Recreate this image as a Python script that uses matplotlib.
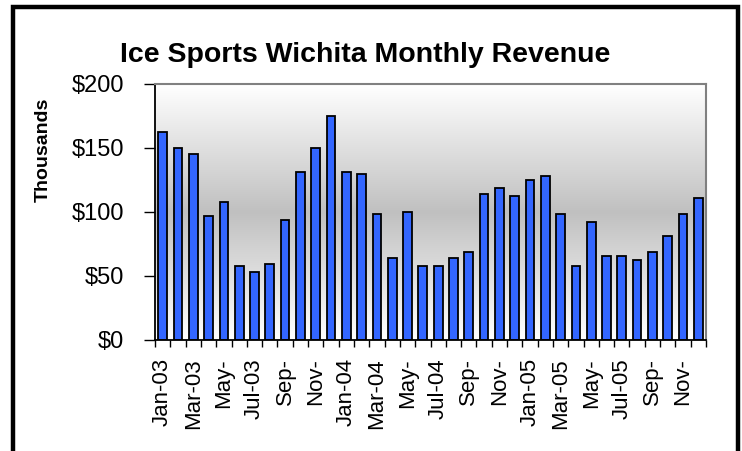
import matplotlib
matplotlib.use("Agg")
import matplotlib.pyplot as plt
import numpy as np
from matplotlib.colors import LinearSegmentedColormap
from matplotlib.patches import Rectangle
from matplotlib.ticker import FixedLocator, FuncFormatter

plt.rcParams['font.family'] = ['Liberation Sans', 'DejaVu Sans']

months = ["Jan-03", "Feb-03", "Mar-03", "Apr-03", "May-03", "Jun-03", "Jul-03", "Aug-03",
          "Sep-03", "Oct-03", "Nov-03", "Dec-03",
          "Jan-04", "Feb-04", "Mar-04", "Apr-04", "May-04", "Jun-04", "Jul-04", "Aug-04",
          "Sep-04", "Oct-04", "Nov-04", "Dec-04",
          "Jan-05", "Feb-05", "Mar-05", "Apr-05", "May-05", "Jun-05", "Jul-05", "Aug-05",
          "Sep-05", "Oct-05", "Nov-05", "Dec-05"]
revenue = [162.5, 150, 145.3, 96.8, 107.7, 57.6, 52.9, 59.2, 93.6, 131.2, 150, 175,
           131.2, 129.6, 98.3, 63.9, 99.9, 57.6, 57.6, 63.9, 68.6, 114, 118.7, 112.4,
           124.9, 128, 98.3, 57.6, 92, 65.5, 65.5, 62.3, 68.6, 81.1, 98.3, 110.8]
tick_labels = ["Jan-03", "Mar-03", "May-", "Jul-03", "Sep-", "Nov-",
               "Jan-04", "Mar-04", "May-", "Jul-04", "Sep-", "Nov-",
               "Jan-05", "Mar-05", "May-", "Jul-05", "Sep-", "Nov-"]
y_ticks = [0, 50, 100, 150, 200]

W, H = 742, 451
fig = plt.figure(figsize=(W / 100, H / 100), dpi=100)
fig.patch.set_facecolor('white')

left, right, top, bottom = 155, 706, 84, 340
ax = fig.add_axes([left / W, 1 - bottom / H, (right - left) / W, (bottom - top) / H])

n = len(revenue)
x = np.arange(n) + 0.5

# gradient background
cmap = LinearSegmentedColormap.from_list('g', [(0, '#ffffff'), (0.5, '#c0c0c0'), (1, '#ffffff')])
grad = np.linspace(0, 1, 256).reshape(-1, 1)
ax.imshow(grad, extent=[0, n, 0, 200], aspect='auto', cmap=cmap, origin='upper', zorder=0)

ax.bar(x, revenue, width=0.57, color='#3366ff', edgecolor='black', linewidth=1.3, zorder=2)

ax.set_xlim(0, n)
ax.set_ylim(0, 200)

# x ticks: marks at boundaries, labels at every other category center
ax.xaxis.set_major_locator(FixedLocator(np.arange(0, n + 1)))
ax.xaxis.set_major_formatter(FuncFormatter(lambda v, p: ''))
ax.xaxis.set_minor_locator(FixedLocator(x[::2]))
ax.set_xticklabels(tick_labels, minor=True, rotation=90, fontsize=16, va='top', ha='center')
ax.tick_params(axis='x', which='major', direction='out', length=5, width=1, color='black')
ax.tick_params(axis='x', which='minor', length=0, pad=13)

ax.set_yticks(y_ticks)
ax.yaxis.set_major_formatter(FuncFormatter(lambda v, p: f"${int(v)}"))
ax.tick_params(axis='y', direction='out', length=8, width=1, pad=14, labelsize=17)

for s in ['top', 'right']:
    ax.spines[s].set_color('#808080')
    ax.spines[s].set_linewidth(1.5)
for s in ['left', 'bottom']:
    ax.spines[s].set_color('black')
    ax.spines[s].set_linewidth(1.3)

fig.text(365 / W, 1 - 62 / H, "Ice Sports Wichita Monthly Revenue", ha='center', va='baseline',
         fontsize=20.5, fontweight='bold')
fig.text(43.5 / W, 1 - 150 / H, "Thousands", rotation=90, ha='center', va='center',
         fontsize=14, fontweight='bold')

# outer chart border (bottom edge falls outside the picture)
fig.patches.append(Rectangle((13 / W, -0.1), (737.5 - 13) / W, (1 - 7.5 / H) + 0.1,
                             transform=fig.transFigure, fill=False, edgecolor='black',
                             linewidth=3.2, figure=fig))

fig.savefig('out.png', dpi=100)
